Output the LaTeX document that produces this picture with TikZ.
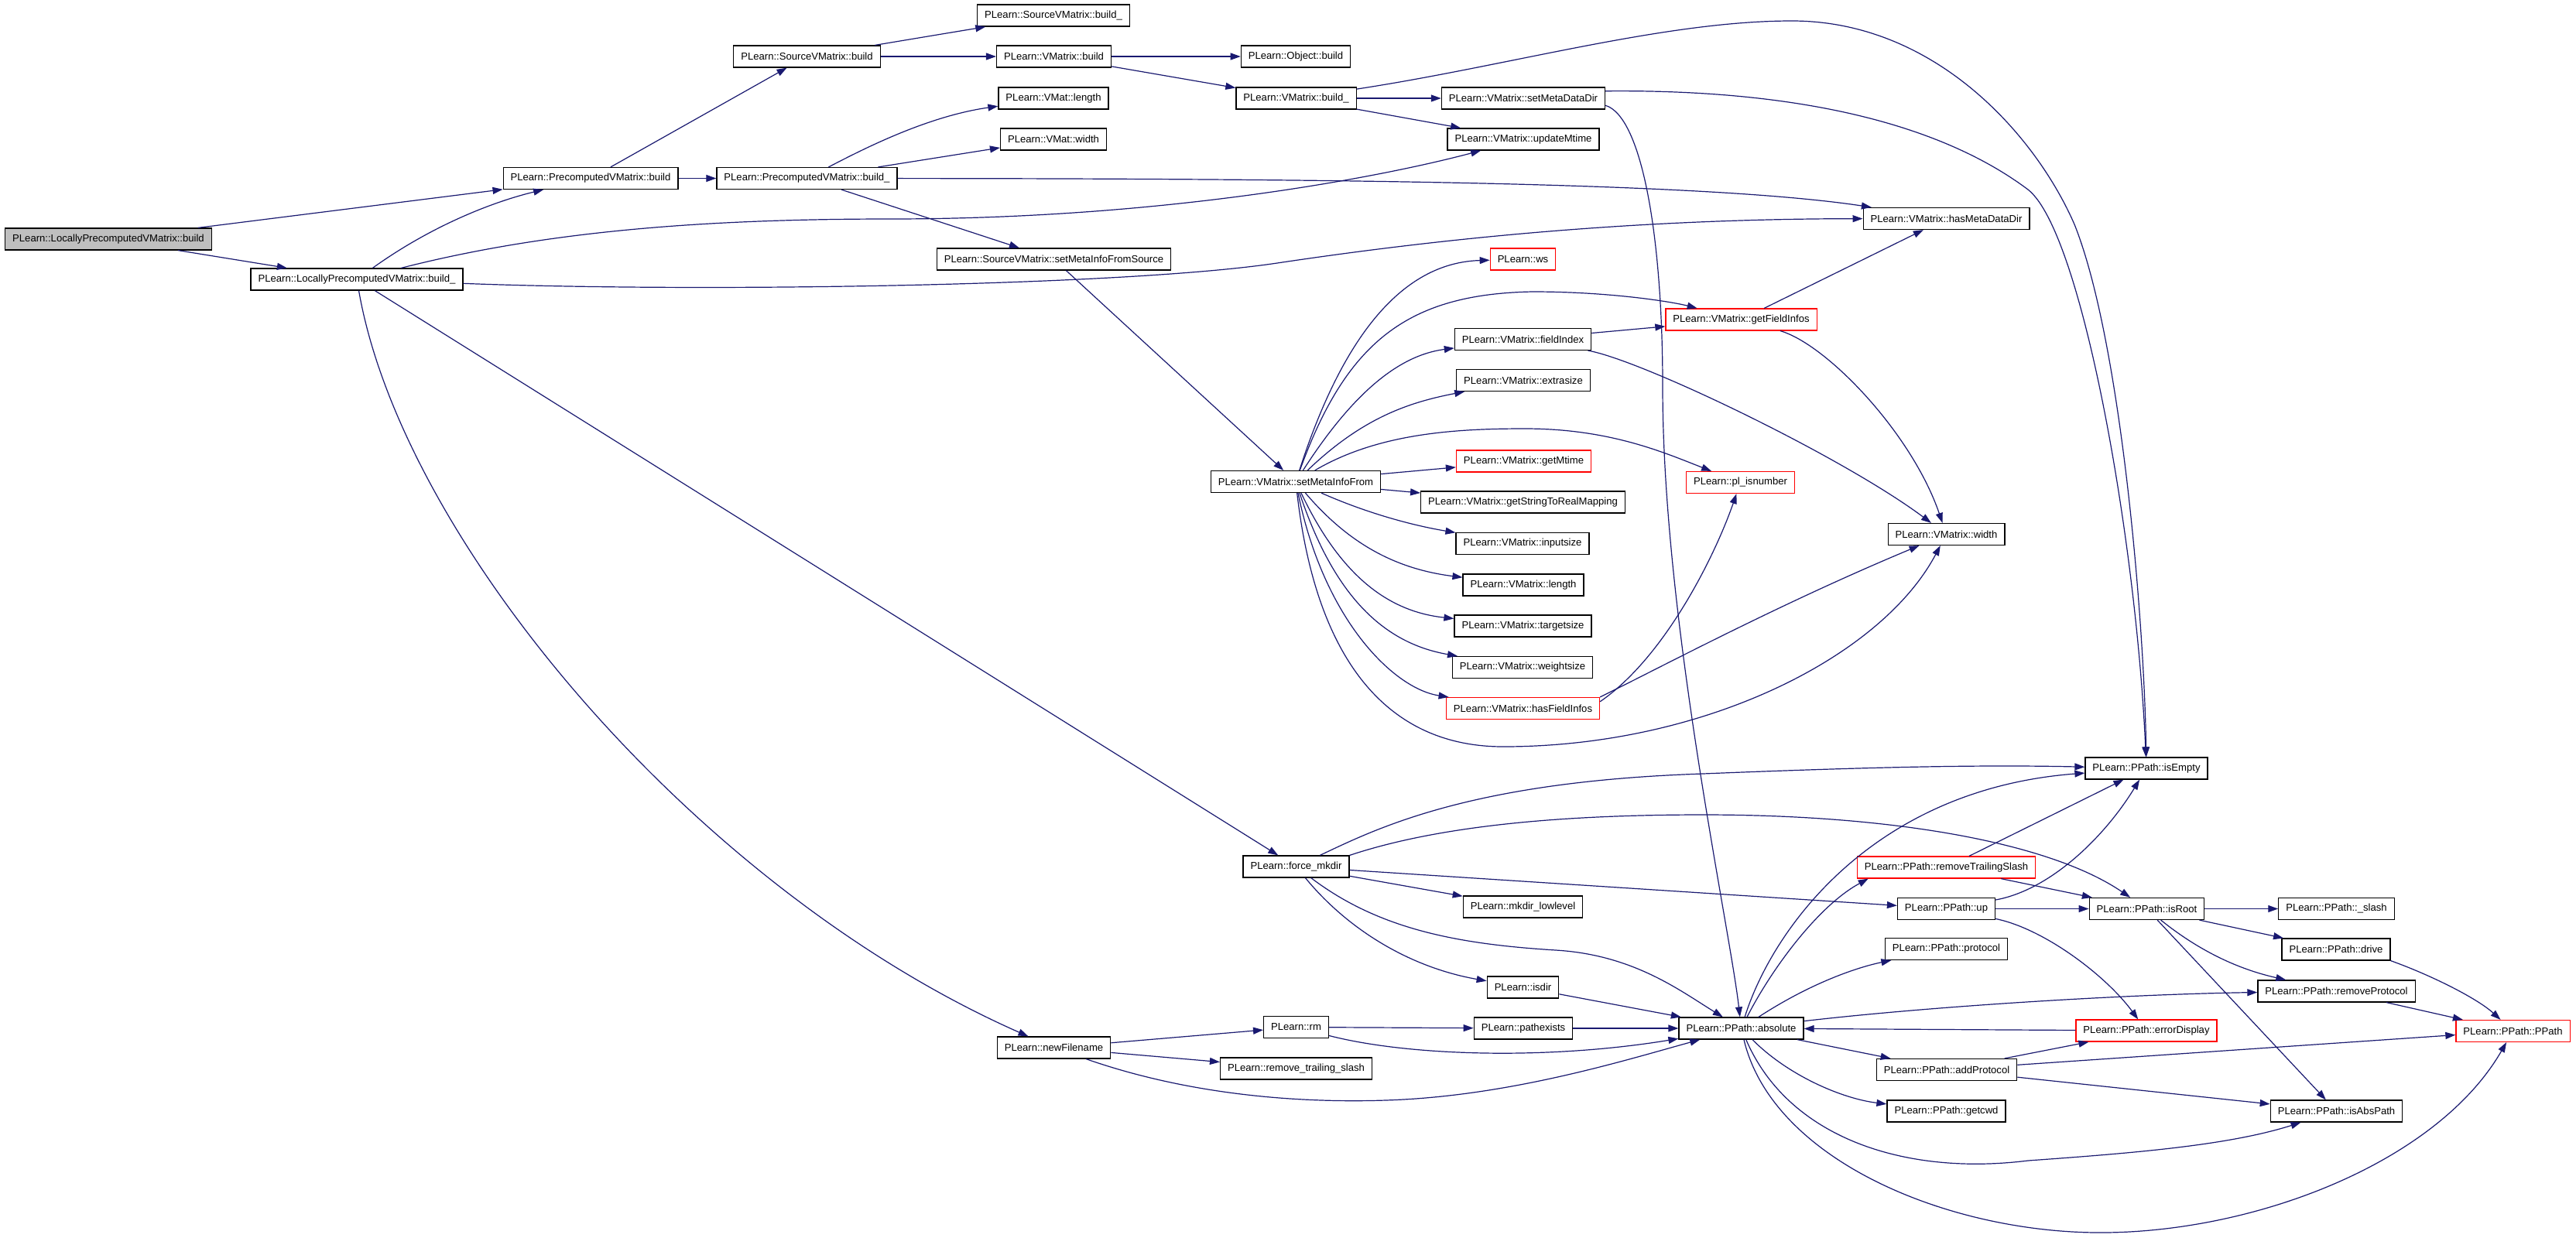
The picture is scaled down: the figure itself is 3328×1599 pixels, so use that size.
\documentclass[tikz,border=0pt]{standalone}
\usepackage{fontspec}
\setmainfont{Liberation Sans}
\usetikzlibrary{arrows.meta}

\definecolor{callblue}{HTML}{191970}
\definecolor{nodered}{HTML}{FF0000}
\definecolor{rootgray}{HTML}{BFBFBF}

\tikzset{
  funcbox/.style={draw=black, line width=1.2pt, fill=white, minimum height=28pt,
    inner xsep=9.5pt, inner ysep=0pt, font=\fontsize{13.1pt}{15pt}\selectfont},
  redbox/.style={funcbox, draw=nodered},
  rootbox/.style={funcbox, fill=rootgray},
  callarrow/.style={-{Triangle[length=13pt,width=9pt]}, line width=1.2pt, draw=callblue}
}

\begin{document}
\begin{tikzpicture}[x=1pt,y=-1pt]
        \useasboundingbox (0,0) rectangle (3328,1599);
        \fill[white] (0,0) rectangle (3328,1599);

        % callers
        \node[rootbox] (lpvBuild) at (140,309) {PLearn::LocallyPrecomputedVMatrix::build};
        \node[funcbox] (lpvBuildU) at (461,361) {PLearn::LocallyPrecomputedVMatrix::build\_};
        \node[funcbox] (pvBuild) at (763,230.5) {PLearn::PrecomputedVMatrix::build};
        \node[funcbox] (pvBuildU) at (1042.5,230.5) {PLearn::PrecomputedVMatrix::build\_};
        \node[funcbox] (svBuild) at (1042.5,73) {PLearn::SourceVMatrix::build};

        % vmatrix column
        \node[funcbox] (svBuildU) at (1361,20) {PLearn::SourceVMatrix::build\_};
        \node[funcbox] (vmBuild) at (1361.5,73) {PLearn::VMatrix::build};
        \node[funcbox] (vmatLength) at (1361,127) {PLearn::VMat::length};
        \node[funcbox] (vmatWidth) at (1361,180) {PLearn::VMat::width};
        \node[funcbox] (svSetMeta) at (1361.5,335) {PLearn::SourceVMatrix::setMetaInfoFromSource};
        \node[funcbox] (newFilename) at (1361.5,1354) {PLearn::newFilename};
        \node[funcbox] (objBuild) at (1674,73) {PLearn::Object::build};
        \node[funcbox] (vmBuildU) at (1674.5,127) {PLearn::VMatrix::build\_};
        \node[funcbox] (setMetaFrom) at (1674,622.5) {PLearn::VMatrix::setMetaInfoFrom};
        \node[funcbox] (forceMkdir) at (1674.5,1120) {PLearn::force\_mkdir};
        \node[funcbox] (rm) at (1674.5,1327.5) {PLearn::rm};
        \node[funcbox] (rmSlash) at (1674.5,1381) {PLearn::remove\_trailing\_slash};

        % called functions
        \node[funcbox] (setMetaDir) at (1968,127) {PLearn::VMatrix::setMetaDataDir};
        \node[funcbox] (updateMtime) at (1968,180) {PLearn::VMatrix::updateMtime};
        \node[redbox] (ws) at (1967.5,335) {PLearn::ws};
        \node[funcbox] (fieldIndex) at (1967.5,438.5) {PLearn::VMatrix::fieldIndex};
        \node[funcbox] (extrasize) at (1968,491.5) {PLearn::VMatrix::extrasize};
        \node[redbox] (getMtime) at (1968.5,596) {PLearn::VMatrix::getMtime};
        \node[funcbox] (strMapping) at (1967.5,649) {PLearn::VMatrix::getStringToRealMapping};
        \node[funcbox] (inputsize) at (1967,702.5) {PLearn::VMatrix::inputsize};
        \node[funcbox] (vmLength) at (1968,756) {PLearn::VMatrix::length};
        \node[funcbox] (targetsize) at (1967.5,809) {PLearn::VMatrix::targetsize};
        \node[funcbox] (weightsize) at (1967,862.5) {PLearn::VMatrix::weightsize};
        \node[redbox] (hasFieldInfos) at (1967.5,915.5) {PLearn::VMatrix::hasFieldInfos};
        \node[funcbox] (mkdirLow) at (1967.5,1172) {PLearn::mkdir\_lowlevel};
        \node[funcbox] (isdir) at (1967.5,1276) {PLearn::isdir};
        \node[funcbox] (pathexists) at (1968,1329) {PLearn::pathexists};
        \node[redbox] (getFieldInfos) at (2249.5,413) {PLearn::VMatrix::getFieldInfos};
        \node[redbox] (plIsnumber) at (2248.5,623.5) {PLearn::pl\_isnumber};
        \node[funcbox] (absolute) at (2249.5,1329) {PLearn::PPath::absolute};
        \node[funcbox] (hasMetaDir) at (2514.5,282.5) {PLearn::VMatrix::hasMetaDataDir};
        \node[funcbox] (vmWidth) at (2514.5,690.5) {PLearn::VMatrix::width};

        % ppath
        \node[redbox] (rmTrailing) at (2514.5,1121) {PLearn::PPath::removeTrailingSlash};
        \node[funcbox] (up) at (2514.5,1174.5) {PLearn::PPath::up};
        \node[funcbox] (protocol) at (2514.5,1226.5) {PLearn::PPath::protocol};
        \node[funcbox] (addProtocol) at (2515,1382.5) {PLearn::PPath::addProtocol};
        \node[funcbox] (getcwd) at (2514.5,1436) {PLearn::PPath::getcwd};
        \node[funcbox] (isEmpty) at (2773,993) {PLearn::PPath::isEmpty};
        \node[funcbox] (isRoot) at (2773.5,1174.5) {PLearn::PPath::isRoot};
        \node[redbox] (errorDisplay) at (2773,1332) {PLearn::PPath::errorDisplay};
        \node[funcbox] (slash) at (3018.5,1174.5) {PLearn::PPath::\_slash};
        \node[funcbox] (drive) at (3018,1227) {PLearn::PPath::drive};
        \node[funcbox] (rmProtocol) at (3018.5,1281) {PLearn::PPath::removeProtocol};
        \node[funcbox] (isAbsPath) at (3018.5,1436) {PLearn::PPath::isAbsPath};
        \node[redbox] (ppath) at (3246.5,1332.5) {PLearn::PPath::PPath};

        % straight calls
        \draw[callarrow] (lpvBuild) -- (pvBuild);
        \draw[callarrow] (lpvBuild) -- (lpvBuildU);
        \draw[callarrow] (pvBuild) -- (svBuild);
        \draw[callarrow] (pvBuild) -- (pvBuildU);
        \draw[callarrow] (svBuild) -- (svBuildU);
        \draw[callarrow] (svBuild) -- (vmBuild);
        \draw[callarrow] (vmBuild) -- (objBuild);
        \draw[callarrow] (vmBuild) -- (vmBuildU);
        \draw[callarrow] (vmBuildU) -- (setMetaDir);
        \draw[callarrow] (vmBuildU) -- (updateMtime);
        \draw[callarrow] (pvBuildU) -- (vmatWidth);
        \draw[callarrow] (pvBuildU) -- (svSetMeta);
        \draw[callarrow] (svSetMeta) -- (setMetaFrom);
        \draw[callarrow] (setMetaFrom) -- (getMtime);
        \draw[callarrow] (setMetaFrom) -- (strMapping);
        \draw[callarrow] (fieldIndex) -- (getFieldInfos);
        \draw[callarrow] (getFieldInfos) -- (hasMetaDir);
        \draw[callarrow] (lpvBuildU) -- (forceMkdir);
        \draw[callarrow] (forceMkdir) -- (up);
        \draw[callarrow] (forceMkdir) -- (mkdirLow);
        \draw[callarrow] (isdir) -- (absolute);
        \draw[callarrow] (pathexists) -- (absolute);
        \draw[callarrow] (newFilename) -- (rm);
        \draw[callarrow] (newFilename) -- (rmSlash);
        \draw[callarrow] (rm) -- (pathexists);
        \draw[callarrow] (errorDisplay) -- (absolute);
        \draw[callarrow] (absolute) -- (addProtocol);
        \draw[callarrow] (addProtocol) -- (errorDisplay);
        \draw[callarrow] (addProtocol) -- (ppath);
        \draw[callarrow] (addProtocol) -- (isAbsPath);
        \draw[callarrow] (rmProtocol) -- (ppath);
        \draw[callarrow] (isRoot) -- (drive);
        \draw[callarrow] (isRoot) -- (slash);
        \draw[callarrow] (isRoot) -- (isAbsPath);
        \draw[callarrow] (up) -- (isRoot);
        \draw[callarrow] (rmTrailing) -- (isEmpty);
        \draw[callarrow] (rmTrailing) -- (isRoot);

        % curved calls, top part
        \draw[callarrow] (lpvBuildU) .. controls (560,290) and (640,260) .. (pvBuild);
        \draw[callarrow] (lpvBuildU) .. controls (700,300) and (900,283) .. (1150,283)
            .. controls (1500,283) and (1780,230) .. (updateMtime);
        \draw[callarrow] (lpvBuildU) .. controls (900,378) and (1450,370) .. (1650,340)
            .. controls (1850,310) and (2100,283) .. (hasMetaDir);
        \draw[callarrow] (pvBuildU) .. controls (1120,190) and (1200,150) .. (vmatLength);
        \draw[callarrow] (pvBuildU) .. controls (1700,231) and (2200,235) .. (hasMetaDir);
        \draw[callarrow] (vmBuildU) .. controls (1950,85) and (2150,27) .. (2315,27)
            .. controls (2500,27) and (2630,175) .. (2680,290)
            .. controls (2740,440) and (2770,800) .. (isEmpty);
        \draw[callarrow] (setMetaDir.5) .. controls (2350,115) and (2520,170) .. (2620,245)
            .. controls (2690,300) and (2760,700) .. (isEmpty);
        \draw[callarrow] (setMetaDir.-5) .. controls (2120,150) and (2148,300) .. (2148,500)
            .. controls (2148,800) and (2235,1200) .. (absolute);

        % setMetaInfoFrom fan
        \draw[callarrow] (setMetaFrom) .. controls (1720,480) and (1790,340) .. (ws);
        \draw[callarrow] (setMetaFrom) .. controls (1740,440) and (1820,380) .. (1980,377)
            .. controls (2080,377) and (2160,390) .. (getFieldInfos);
        \draw[callarrow] (setMetaFrom) .. controls (1740,520) and (1800,460) .. (fieldIndex);
        \draw[callarrow] (setMetaFrom) .. controls (1760,540) and (1820,520) .. (extrasize);
        \draw[callarrow] (setMetaFrom) .. controls (1780,560) and (1880,554) .. (1970,554)
            .. controls (2080,554) and (2150,585) .. (plIsnumber);
        \draw[callarrow] (setMetaFrom) .. controls (1770,665) and (1830,680) .. (inputsize);
        \draw[callarrow] (setMetaFrom) .. controls (1740,700) and (1800,735) .. (vmLength);
        \draw[callarrow] (setMetaFrom) .. controls (1730,740) and (1790,790) .. (targetsize);
        \draw[callarrow] (setMetaFrom) .. controls (1720,760) and (1780,830) .. (weightsize);
        \draw[callarrow] (setMetaFrom) .. controls (1710,800) and (1800,890) .. (hasFieldInfos);
        \draw[callarrow] (setMetaFrom) .. controls (1700,850) and (1790,965) .. (1942,965)
            .. controls (2200,965) and (2430,850) .. (vmWidth);
        \draw[callarrow] (fieldIndex) .. controls (2120,465) and (2380,590) .. (vmWidth);
        \draw[callarrow] (getFieldInfos) .. controls (2360,445) and (2470,560) .. (vmWidth);
        \draw[callarrow] (hasFieldInfos.5) .. controls (2150,850) and (2215,720) .. (plIsnumber);
        \draw[callarrow] (hasFieldInfos.north east) .. controls (2150,860) and (2300,780) .. (vmWidth);

        % file helpers
        \draw[callarrow] (lpvBuildU) .. controls (520,700) and (900,1150) .. (newFilename);
        \draw[callarrow] (forceMkdir) .. controls (1780,1070) and (1900,1010) .. (2200,1000)
            .. controls (2400,992) and (2550,988) .. (isEmpty);
        \draw[callarrow] (forceMkdir.north east) .. controls (1850,1070) and (2000,1053) .. (2200,1053)
            .. controls (2450,1053) and (2650,1090) .. (isRoot);
        \draw[callarrow] (forceMkdir) .. controls (1740,1200) and (1820,1250) .. (isdir);
        \draw[callarrow] (forceMkdir) .. controls (1780,1200) and (1880,1220) .. (2010,1228)
            .. controls (2110,1234) and (2170,1280) .. (absolute);
        \draw[callarrow] (rm) .. controls (1820,1365) and (2000,1370) .. (absolute);
        \draw[callarrow] (newFilename) .. controls (1550,1420) and (1700,1425) .. (1790,1422)
            .. controls (1950,1417) and (2100,1370) .. (absolute);

        % ppath calls
        \draw[callarrow] (absolute) .. controls (2290,1200) and (2420,1020) .. (isEmpty);
        \draw[callarrow] (absolute) .. controls (2290,1250) and (2350,1170) .. ([xshift=15pt]rmTrailing.south west);
        \draw[callarrow] (absolute) .. controls (2340,1270) and (2400,1250) .. (protocol);
        \draw[callarrow] (absolute) .. controls (2500,1300) and (2750,1285) .. (rmProtocol);
        \draw[callarrow] (absolute) .. controls (2310,1390) and (2380,1420) .. (getcwd);
        \draw[callarrow] (absolute) .. controls (2310,1470) and (2460,1520) .. (2620,1500)
            .. controls (2760,1490) and (2880,1480) .. (isAbsPath);
        \draw[callarrow] (absolute) .. controls (2290,1500) and (2520,1595) .. (2720,1593)
            .. controls (2920,1591) and (3150,1500) .. (ppath);
        \draw[callarrow] (drive.south east) .. controls (3140,1260) and (3200,1290) .. (ppath);
        \draw[callarrow] (isRoot) .. controls (2830,1220) and (2880,1250) .. (rmProtocol);
        \draw[callarrow] (up) .. controls (2640,1200) and (2720,1260) .. (errorDisplay);
        \draw[callarrow] (up) .. controls (2650,1150) and (2720,1080) .. (isEmpty);
\end{tikzpicture}
\end{document}
